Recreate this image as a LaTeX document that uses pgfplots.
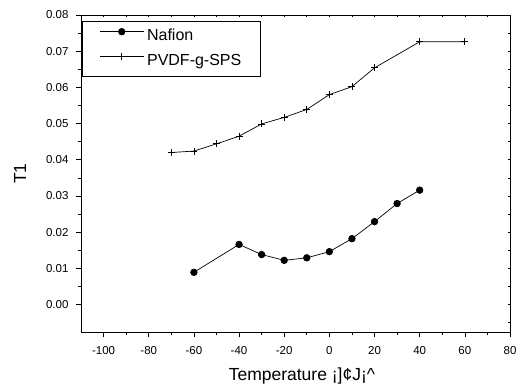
\documentclass[border=0pt]{standalone}
\usepackage{fontspec}
\setmainfont{Liberation Sans}
\usepackage{pgfplots}
\pgfplotsset{compat=1.18}
\begin{document}
\begin{tikzpicture}[x=1pt,y=1pt]
\useasboundingbox (-81,-52) rectangle (441,332);
% top/right inward ticks
\begin{axis}[
  at={(0,0)}, anchor=south west,
  scale only axis, width=429pt, height=317pt,
  xmin=-110, xmax=80, ymin=-0.0076, ymax=0.08,
  scaled x ticks=false, scaled y ticks=false,
  xtick={-100,-90,...,70}, ytick={-0.005,0,0.005,0.01,0.015,0.02,0.025,0.03,0.035,0.04,0.045,0.05,0.055,0.06,0.065,0.07,0.075},
  xticklabels={}, yticklabels={},
  tick pos=right, tick align=inside,
  major tick length=2pt,
  tick style={black, line width=0.6pt},
  axis line style={line width=0.8pt},
]
\end{axis}
\begin{axis}[
  at={(0,0)}, anchor=south west,
  scale only axis, width=429pt, height=317pt,
  xmin=-110, xmax=80, ymin=-0.0076, ymax=0.08,
  xtick={-100,-80,-60,-40,-20,0,20,40,60,80},
  ytick={0,0.01,0.02,0.03,0.04,0.05,0.06,0.07,0.08},
  minor x tick num=1, minor y tick num=1,
  tick pos=left, tick align=outside,
  major tick length=5pt, minor tick length=3pt,
  tick style={black, line width=0.6pt},
  axis line style={line width=0.8pt},
  scaled y ticks=false,
  /pgf/number format/assume math mode=true,
  ticklabel style={font=\fontsize{11.5}{13}\selectfont},
  xticklabel style={yshift=-6pt},
  yticklabel style={xshift=-4pt, /pgf/number format/.cd, fixed, fixed zerofill, precision=2},
  xlabel={Temperature ¡]¢J¡\textasciicircum{}},
  ylabel={T1},
  label style={font=\fontsize{17.5}{20}\selectfont},
  xlabel style={at={(axis description cs:0.515,-0.1514)}, anchor=base},
  ylabel style={at={(axis description cs:-0.1422,0.5)}, anchor=center},
  legend style={at={(rel axis cs:0,1)}, anchor=north west, xshift=1pt, yshift=-6pt,
    draw=black, line width=0.8pt, font=\fontsize{16}{19}\selectfont,
    inner xsep=17pt, inner ysep=7pt, row sep=8pt, column sep=1pt,
    nodes={inner xsep=2pt, inner ysep=0pt, text height=12pt, text depth=4pt}},
  legend cell align=left,
  legend image code/.code={\draw[mark repeat=2,mark phase=2,#1] plot coordinates {(0pt,5pt) (22pt,5pt) (44pt,5pt)};},
]
\addplot[black, line width=0.7pt, mark=*, mark size=3.3pt, mark options={solid, fill=black}] coordinates {
  (-60,0.0089) (-40,0.0166) (-30,0.0138) (-20,0.0122) (-10,0.0129) (0,0.0146)
  (10,0.0182) (20,0.0229) (30,0.0279) (40,0.0316)
};
\addlegendentry{Nafion}
\addplot[black, line width=0.7pt, mark=+, mark size=3.5pt, mark options={solid, line width=0.7pt}] coordinates {
  (-70,0.0420) (-60,0.0424) (-50,0.0444) (-40,0.0465) (-30,0.0499) (-20,0.0517)
  (-10,0.0539) (0,0.0580) (10,0.0602) (20,0.0654) (40,0.0726) (60,0.0726)
};
\addlegendentry{PVDF-g-SPS}
\end{axis}
\end{tikzpicture}
\end{document}
